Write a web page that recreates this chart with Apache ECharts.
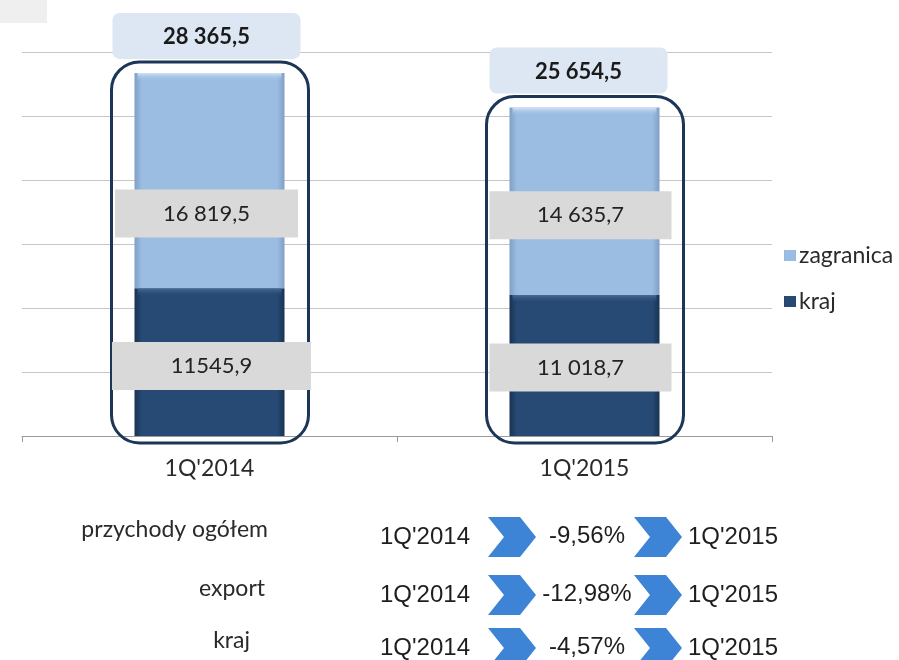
<!DOCTYPE html>
<html><head><meta charset="utf-8">
<script src="https://cdn.jsdelivr.net/npm/echarts@6/dist/echarts.min.js"></script>
<style>html,body{margin:0;padding:0;background:#fff}#c{width:899px;height:660px}</style>
</head><body><div id="c"></div>
<script>
// ---- data ----
var categories = ["1Q'2014", "1Q'2015"];
var krajValues = [11545.9, 11018.7];
var zagranicaValues = [16819.5, 14635.7];
var totalValues = [28365.5, 25654.5];
var krajLabels = ['11545,9', '11 018,7'];
var zagranicaLabels = ['16 819,5', '14 635,7'];
var totalLabels = ['28 365,5', '25 654,5'];
var seriesNames = ['kraj', 'zagranica'];
var tableRowNames = ['przychody ogółem', 'export', 'kraj'];
var tableChanges = ['-9,56%', '-12,98%', '-4,57%'];
var yTicks = [0, 5000, 10000, 15000, 20000, 25000, 30000];

// ---- layout (not data) ----
var zagOffsets = [[-3, 33], [-4, 14]];
var krajOffsets = [[2, 4], [-4, 2]];
var zagBoxW = [183, 182];
var krajBoxW = [199, 182];
var totalBoxW = [188, 178];
var totalBoxDx = [-3, -6];
var rowNameRight = [268, 265, 250];
var rowY = [537, 595, 648];
var rowNameY = [530, 589, 641];

var chart = echarts.init(document.getElementById('c'), null, {renderer: 'canvas'});

function grad(edge, main) {
  return new echarts.graphic.LinearGradient(0, 0, 1, 0, [
    {offset: 0, color: edge}, {offset: 0.05, color: main},
    {offset: 0.95, color: main}, {offset: 1, color: edge}
  ]);
}
var zagColor = grad('#7f9fc7', '#9cbde2');
var krajColor = grad('#1a3252', '#274a75');

function lbl(txt, w, off) {
  return {
    show: true, position: 'inside', offset: off,
    formatter: txt, color: '#222', fontFamily: 'Lato', fontSize: 22,
    backgroundColor: '#d9d9d9', width: w, height: 48, lineHeight: 48,
    align: 'center', verticalAlign: 'middle', padding: 0
  };
}

var zagData = zagranicaValues.map(function (v, i) {
  return {value: v, label: lbl(zagranicaLabels[i], zagBoxW[i], zagOffsets[i])};
});
var krajData = krajValues.map(function (v, i) {
  return {value: v, label: lbl(krajLabels[i], krajBoxW[i], krajOffsets[i])};
});

var graphics = [
  {type: 'rect', left: 0, top: 0, shape: {width: 47, height: 23}, style: {fill: '#efefef'}}
];
function chevron(x, yc) {
  var w = 48, h = 40, d = 16;
  return {type: 'polygon', shape: {points: [
    [x, yc - h / 2], [x + w - d, yc - h / 2], [x + w, yc], [x + w - d, yc + h / 2], [x, yc + h / 2], [x + d, yc]
  ]}, style: {fill: '#3d84d6'}};
}
tableRowNames.forEach(function (n, i) {
  graphics.push({type: 'text', style: {text: n, x: rowNameRight[i], y: rowNameY[i], textAlign: 'right', textVerticalAlign: 'middle', font: '23px Lato', fill: '#2a2a2a'}});
  graphics.push({type: 'text', style: {text: categories[0], x: 380, y: rowY[i], textAlign: 'left', textVerticalAlign: 'middle', font: '24px "Liberation Sans"', fill: '#1e1e1e'}});
  graphics.push(chevron(488, rowY[i]));
  graphics.push({type: 'text', style: {text: tableChanges[i], x: 587, y: rowY[i] - 1, textAlign: 'center', textVerticalAlign: 'middle', font: '24px "Liberation Sans"', fill: '#1e1e1e'}});
  graphics.push(chevron(634, rowY[i]));
  graphics.push({type: 'text', style: {text: categories[1], x: 688, y: rowY[i], textAlign: 'left', textVerticalAlign: 'middle', font: '24px "Liberation Sans"', fill: '#1e1e1e'}});
});

var option = {
  animation: false,
  backgroundColor: '#fff',
  grid: {left: 22, right: 127, top: 52, bottom: 224},
  legend: {
    orient: 'vertical', left: 779, top: 239, itemWidth: 12, itemHeight: 11, itemGap: 23,
    data: [seriesNames[1], seriesNames[0]],
    textStyle: {fontFamily: 'Lato', fontSize: 23, color: '#2a2a2a', padding: [0, 0, 0, -2]},
    icon: 'rect'
  },
  xAxis: {
    type: 'category', data: categories,
    axisLine: {lineStyle: {color: '#9a9a9a', width: 1}},
    axisTick: {show: true, length: 6, lineStyle: {color: '#9a9a9a'}},
    axisLabel: {margin: 21, fontFamily: 'Lato', fontSize: 23, color: '#2a2a2a'}
  },
  yAxis: {
    type: 'value', min: 0, max: 30000, interval: 5000,
    axisLabel: {show: false}, axisLine: {show: false}, axisTick: {show: false},
    splitLine: {lineStyle: {color: '#c6c6c6', width: 1}}
  },
  series: [
    {
      name: seriesNames[0], type: 'bar', stack: 's', barWidth: '40%', z: 3,
      itemStyle: {color: krajColor}, data: krajData
    },
    {
      name: seriesNames[1], type: 'bar', stack: 's', barWidth: '40%', z: 3,
      itemStyle: {color: zagColor}, data: zagData
    },
    {
      type: 'custom', z: 2, silent: true,
      data: totalValues.map(function (v, i) { return [i, v]; }),
      renderItem: function (params, api) {
        var i = api.value(0), v = api.value(1);
        var top = api.coord([i, v]);
        var bot = api.coord([i, 0]);
        var bw = api.size([1, 0])[0] * 0.4;
        return {type: 'group', children: [
          {type: 'rect', shape: {x: top[0] - bw / 2 - 23, y: top[1] - 11, width: bw + 47, height: bot[1] - top[1] + 18, r: 28},
            style: {fill: 'none', stroke: '#1c3658', lineWidth: 3}},
          {type: 'rect', shape: {x: top[0] + totalBoxDx[i] - totalBoxW[i] / 2, y: top[1] - 60, width: totalBoxW[i], height: 46, r: 7},
            style: {fill: '#dde7f3'}},
          {type: 'text', style: {text: totalLabels[i], x: top[0] + totalBoxDx[i], y: top[1] - 36, textAlign: 'center', textVerticalAlign: 'middle',
            font: 'bold 22px Lato', fill: '#1a1a1a'}}
        ]};
      }
    },
    {
      // bevel highlight strips on top of each stacked segment
      type: 'custom', z: 4, silent: true,
      data: krajValues.map(function (v, i) { return [i, v, totalValues[i]]; }),
      renderItem: function (params, api) {
        var i = api.value(0);
        var k = api.coord([i, api.value(1)]);
        var t = api.coord([i, api.value(2)]);
        var bw = api.size([1, 0])[0] * 0.4;
        var x0 = k[0] - bw / 2 + 3;
        function strip(y, c1, c2) {
          return {type: 'rect', shape: {x: x0, y: y, width: bw - 6, height: 8},
            style: {fill: new echarts.graphic.LinearGradient(0, 0, 0, 1, [{offset: 0, color: c1}, {offset: 1, color: c2}])}};
        }
        return {type: 'group', children: [
          strip(t[1], '#d2e3f6', 'rgba(156,189,226,0)'),
          strip(k[1], '#4a6c97', 'rgba(39,74,117,0)')
        ]};
      }
    }
  ],
  graphic: graphics
};
chart.setOption(option);
</script></body></html>
